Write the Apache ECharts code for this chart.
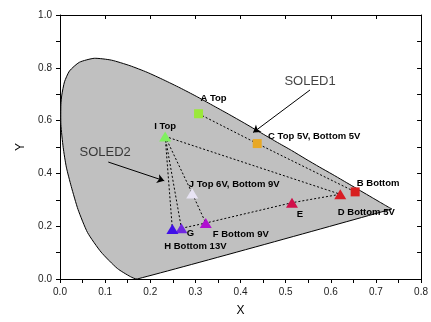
<!DOCTYPE html>
<html lang="en">
<head>
    <meta charset="UTF-8">
    <title>CIE</title>
    <style>
        html, body { margin: 0; height: 100%; background: #fff; }
        #main { width: 431px; height: 322px; }
    </style>
    <script src="https://cdn.jsdelivr.net/npm/echarts@6/dist/echarts.min.js"></script>
</head>
<body>
    <div id="main"></div>
    <script>
        const myChart = echarts.init(document.getElementById('main'))

        // outline of the gray horseshoe (bottom vertex -> left side -> top -> right tip)
        const locusX = [0.171, 0.156, 0.127, 0.091, 0.061, 0.040, 0.025, 0.014, 0.007, 0.002, 0.002, 0.004, 0.010, 0.021, 0.043, 0.076, 0.114, 0.155, 0.193, 0.230, 0.266, 0.302, 0.337, 0.373, 0.409, 0.444, 0.479, 0.513, 0.545, 0.575, 0.603, 0.627, 0.666, 0.692, 0.708, 0.719, 0.730, 0.735]
        const locusY = [0.000, 0.009, 0.040, 0.102, 0.176, 0.263, 0.350, 0.424, 0.499, 0.585, 0.660, 0.697, 0.747, 0.788, 0.821, 0.836, 0.829, 0.808, 0.783, 0.754, 0.724, 0.692, 0.659, 0.625, 0.590, 0.555, 0.520, 0.487, 0.454, 0.424, 0.397, 0.373, 0.334, 0.308, 0.292, 0.281, 0.270, 0.265]

        // measured points
        const pointKeys = ['A', 'B', 'C', 'D', 'E', 'F', 'G', 'H', 'I', 'J']
        const pointNames = ['A Top', 'B Bottom', 'C Top 5V, Bottom 5V', 'D Bottom 5V', 'E', 'F Bottom 9V', 'G', 'H Bottom 13V', 'I Top', 'J Top 6V, Bottom 9V']
        const pointX = [0.307, 0.654, 0.437, 0.621, 0.514, 0.323, 0.269, 0.249, 0.233, 0.293]
        const pointY = [0.626, 0.330, 0.513, 0.321, 0.289, 0.212, 0.192, 0.189, 0.540, 0.324]

        // dotted connections between points
        const paths = [
            ['A', 'C', 'B'],
            ['I', 'D'],
            ['I', 'H'],
            ['I', 'G'],
            ['I', 'J', 'F'],
            ['G', 'F', 'E', 'D']
        ]

        // annotations
        const noteTexts = ['SOLED1', 'SOLED2']
        const noteX = [0.554, 0.100]
        const noteY = [0.748, 0.480]
        const arrowFrom = [[0.554, 0.716], [0.107, 0.443]]
        const arrowTo = [[0.428, 0.555], [0.231, 0.372]]

        // marker look + label offsets (px)
        const pointStyle = {
            A: { symbol: 'rect', size: 9, color: '#9be83a', offset: [15, -15] },
            B: { symbol: 'rect', size: 9, color: '#d82020', offset: [23, -9] },
            C: { symbol: 'rect', size: 9, color: '#e8a825', offset: [57, -7] },
            D: { symbol: 'triangle', size: [12, 10], color: '#d81c24', offset: [26, 18] },
            E: { symbol: 'triangle', size: [12, 10], color: '#d0104a', offset: [8, 12] },
            F: { symbol: 'triangle', size: [12, 10], color: '#b010d0', offset: [35, 11] },
            G: { symbol: 'triangle', size: [12, 10], color: '#7028e0', offset: [9, 5] },
            H: { symbol: 'triangle', size: [12, 10], color: '#4010e8', offset: [23, 17] },
            I: { symbol: 'triangle', size: [12, 10], color: '#80f060', offset: [0, -10] },
            J: { symbol: 'triangle', size: [12, 10], color: '#e8e4f4', offset: [42, -9] }
        }

        const font = 'Liberation Sans, Arial, sans-serif'
        const black = { color: '#000', width: 1 }

        function xy (key) {
            const i = pointKeys.indexOf(key)
            return [pointX[i], pointY[i]]
        }

        const pathSeries = paths.map(p => ({
            type: 'line',
            silent: true,
            symbol: 'none',
            z: 3,
            lineStyle: { color: '#000', width: 1, type: [2, 2] },
            data: p.map(xy)
        }))

        const pointData = pointKeys.map((k, i) => {
            const st = pointStyle[k]
            return {
                value: [pointX[i], pointY[i]],
                name: pointNames[i],
                symbol: st.symbol,
                symbolSize: st.size,
                itemStyle: { color: st.color, opacity: 1 },
                label: { offset: st.offset }
            }
        })

        const options = {
            animation: false,
            grid: { left: 60, right: 6, top: 15, bottom: 38 },
            xAxis: [{
                type: 'value', min: 0, max: 0.8, interval: 0.1, position: 'bottom',
                name: 'X', nameLocation: 'middle', nameGap: 26,
                nameTextStyle: { fontFamily: font, fontSize: 12, color: '#000' },
                axisLine: { onZero: false, lineStyle: black },
                axisTick: { inside: false, length: 4, lineStyle: black },
                minorTick: { show: true, splitNumber: 2, length: 4, lineStyle: black },
                axisLabel: { fontFamily: font, fontSize: 10, color: '#222', margin: 8, formatter: v => v.toFixed(1) },
                splitLine: { show: false }
            }, {
                type: 'value', min: 0, max: 0.8, interval: 0.1, position: 'top',
                axisLine: { onZero: false, lineStyle: black },
                axisTick: { inside: true, length: 4, lineStyle: black },
                axisLabel: { show: false },
                splitLine: { show: false }
            }],
            yAxis: [{
                type: 'value', min: 0, max: 1, interval: 0.2, position: 'left',
                name: 'Y', nameLocation: 'middle', nameGap: 33, nameRotate: 90,
                nameTextStyle: { fontFamily: font, fontSize: 12, color: '#000' },
                axisLine: { onZero: false, lineStyle: black },
                axisTick: { inside: false, length: 4, lineStyle: black },
                minorTick: { show: true, splitNumber: 2, length: 4, lineStyle: black },
                axisLabel: { fontFamily: font, fontSize: 10, color: '#222', margin: 8, formatter: v => v.toFixed(1) },
                splitLine: { show: false }
            }, {
                type: 'value', min: 0, max: 1, interval: 0.1, position: 'right',
                axisLine: { onZero: false, lineStyle: black },
                axisTick: { inside: true, length: 4, lineStyle: black },
                axisLabel: { show: false },
                splitLine: { show: false }
            }],
            series: [{
                type: 'custom',
                silent: true,
                z: 1,
                data: [[0, 0]],
                renderItem (params, api) {
                    const pts = locusX.map((x, i) => api.coord([x, locusY[i]]))
                    return {
                        type: 'polygon',
                        shape: { points: pts, smooth: 0.2 },
                        style: { fill: '#c0c0c0', stroke: '#000', lineWidth: 1 }
                    }
                }
            },
            ...pathSeries,
            {
                type: 'scatter',
                silent: true,
                z: 5,
                data: pointData,
                label: {
                    show: true,
                    position: 'inside',
                    formatter: p => p.name,
                    fontFamily: font,
                    fontSize: 9.5,
                    fontWeight: 'bold',
                    color: '#000'
                }
            },
            {
                type: 'scatter',
                silent: true,
                z: 6,
                symbolSize: 0,
                data: noteTexts.map((t, i) => ({ value: [noteX[i], noteY[i]], name: t })),
                label: {
                    show: true,
                    position: 'inside',
                    formatter: p => p.name,
                    fontFamily: font,
                    fontSize: 13,
                    color: '#111'
                }
            },
            {
                type: 'line',
                silent: true,
                data: [],
                markLine: {
                    silent: true,
                    symbol: ['none', 'arrow'],
                    symbolSize: 7,
                    label: { show: false },
                    lineStyle: { color: '#000', width: 1, type: 'solid' },
                    data: arrowFrom.map((f, i) => [{ coord: f }, { coord: arrowTo[i] }])
                }
            }]
        }

        myChart.setOption(options)
    </script>
</body>
</html>
